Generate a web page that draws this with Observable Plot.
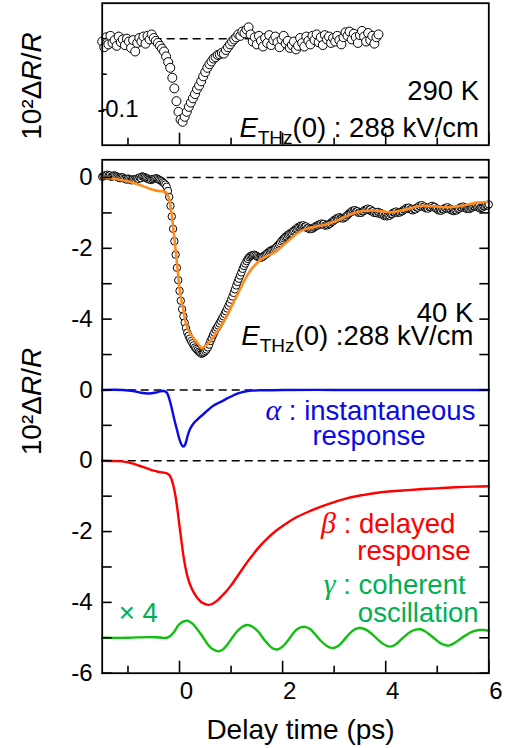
<!DOCTYPE html>
<html><head><meta charset="utf-8">
<script src="https://cdn.jsdelivr.net/npm/d3@7"></script>
<script src="https://cdn.jsdelivr.net/npm/@observablehq/plot@0.6"></script>
<style>
body{margin:0;background:#fff;}
#chart{width:505px;height:748px;overflow:hidden;}
#chart svg{display:block;}
</style></head><body><div id="chart"></div>
<script>
// ---------- data (10^2 ΔR/R vs delay time in ps) ----------
// 290 K measured points, uniform delay grid
const t290Start = -1.5, t290Step = 0.04;
const v290 = [-0.004,-0.012,0.002,-0.008,0.004,-0.006,-0.002,-0.010,0.003,-0.005,
-0.001,-0.009,0.000,-0.004,-0.013,-0.002,-0.018,-0.006,0.001,-0.004,
0.003,-0.007,0.004,-0.001,0.006,0.001,-0.003,-0.006,-0.010,-0.014,
-0.018,-0.025,-0.033,-0.041,-0.055,-0.070,-0.088,-0.103,-0.114,-0.117,
-0.110,-0.103,-0.096,-0.090,-0.084,-0.078,-0.071,-0.066,-0.060,-0.053,
-0.047,-0.041,-0.036,-0.032,-0.028,-0.026,-0.023,-0.022,-0.020,-0.021,
-0.016,-0.012,-0.008,-0.004,-0.001,0.002,0.006,0.004,0.010,0.008,
0.013,0.016,0.006,-0.004,0.002,-0.008,0.004,-0.003,-0.011,0.001,
-0.006,0.005,-0.009,-0.002,0.003,-0.005,-0.012,-0.001,0.004,-0.007,
-0.003,-0.013,-0.009,-0.004,-0.015,-0.010,0.001,-0.006,-0.011,0.003,
-0.003,-0.008,0.004,-0.002,0.006,-0.005,0.002,-0.009,0.005,-0.001,
0.003,-0.006,0.001,-0.004,0.004,-0.002,-0.008,0.002,0.009,0.004,
0.010,-0.001,0.007,0.002,-0.006,0.005,0.011,0.003,-0.004,0.008,
-0.002,0.004,-0.007,0.002,0.006];

// 40 K measured points, scan A (uniform delay grid)
const t40aStart = -1.5, t40aStep = 0.05;
const v40a = [0.02,0.05,0.08,0.06,0.03,0.05,0.01,-0.02,0.00,-0.04,
-0.03,-0.07,-0.05,-0.08,-0.04,-0.02,0.02,-0.01,-0.05,-0.07,
-0.04,-0.02,-0.06,-0.10,-0.16,-0.26,-0.55,-1.10,-1.80,-2.55,
-3.20,-3.72,-4.10,-4.38,-4.55,-4.68,-4.80,-4.88,-4.95,-4.96,
-4.90,-4.80,-4.62,-4.45,-4.30,-4.18,-4.05,-3.92,-3.78,-3.62,
-3.45,-3.26,-3.05,-2.86,-2.68,-2.50,-2.36,-2.25,-2.20,-2.18,
-2.22,-2.26,-2.25,-2.20,-2.14,-2.08,-2.04,-2.00,-1.93,-1.85,
-1.76,-1.68,-1.62,-1.57,-1.52,-1.46,-1.40,-1.36,-1.35,-1.38,
-1.42,-1.44,-1.42,-1.37,-1.33,-1.30,-1.31,-1.34,-1.32,-1.26,
-1.20,-1.15,-1.12,-1.14,-1.13,-1.07,-1.00,-0.94,-0.92,-0.95,
-0.98,-0.96,-0.91,-0.88,-0.90,-0.95,-0.98,-0.97,-1.00,-1.04,
-1.07,-1.08,-1.04,-0.99,-0.96,-0.98,-0.96,-0.91,-0.86,-0.85,
-0.89,-0.90,-0.85,-0.80,-0.78,-0.82,-0.86,-0.84,-0.80,-0.83,
-0.88,-0.92,-0.90,-0.86,-0.84,-0.88,-0.92,-0.93,-0.89,-0.84,
-0.82,-0.85,-0.88,-0.86,-0.82,-0.80,-0.83,-0.85,-0.82,-0.78,
-0.76];

// 40 K measured points, scan B (interleaved grid)
const t40bStart = -1.475, t40bStep = 0.05;
const v40b = [0.04,0.07,0.05,0.02,0.06,0.03,-0.01,0.01,-0.03,-0.06,
-0.04,-0.08,-0.06,-0.03,0.00,0.03,0.01,-0.03,-0.06,-0.05,
-0.03,-0.04,-0.08,-0.13,-0.20,-0.38,-0.80,-1.45,-2.18,-2.90,
-3.48,-3.92,-4.25,-4.47,-4.62,-4.74,-4.84,-4.92,-4.98,-4.94,
-4.86,-4.72,-4.54,-4.38,-4.24,-4.12,-3.98,-3.85,-3.70,-3.54,
-3.36,-3.16,-2.95,-2.77,-2.58,-2.43,-2.30,-2.22,-2.19,-2.20,
-2.25,-2.27,-2.23,-2.17,-2.11,-2.06,-2.03,-1.97,-1.89,-1.80,
-1.72,-1.66,-1.60,-1.56,-1.50,-1.44,-1.39,-1.37,-1.39,-1.43,
-1.46,-1.45,-1.40,-1.36,-1.33,-1.33,-1.36,-1.35,-1.30,-1.24,
-1.19,-1.15,-1.15,-1.16,-1.11,-1.04,-0.98,-0.95,-0.96,-1.00,
-1.00,-0.95,-0.91,-0.92,-0.96,-1.00,-1.01,-1.02,-1.05,-1.09,
-1.10,-1.08,-1.03,-0.99,-1.00,-0.99,-0.95,-0.90,-0.88,-0.90,
-0.93,-0.90,-0.85,-0.82,-0.83,-0.87,-0.88,-0.84,-0.84,-0.88,
-0.93,-0.94,-0.90,-0.87,-0.89,-0.93,-0.95,-0.93,-0.88,-0.85,
-0.86,-0.89,-0.89,-0.85,-0.82,-0.84,-0.87,-0.85,-0.81,-0.79];

// 40 K fit (orange)
const fitT = [-1.5,-1.3,-1.1,-0.9,-0.7,-0.55,-0.45,-0.35,-0.28,-0.24,-0.2,-0.16,-0.12,-0.08,-0.04,0.0,0.04,0.08,0.12,0.18,
0.25,0.32,0.38,0.43,0.48,0.55,0.62,0.7,0.8,0.9,1.0,1.1,1.2,1.3,1.4,1.5,1.6,1.7,1.8,1.9,
2.0,2.1,2.2,2.3,2.4,2.5,2.6,2.7,2.8,2.9,3.0,3.1,3.2,3.3,3.4,3.5,3.6,3.7,3.8,3.9,
4.0,4.1,4.2,4.3,4.4,4.5,4.6,4.7,4.8,4.9,5.0,5.1,5.2,5.3,5.4,5.5,5.6,5.7,5.8,5.9,6.0];
const fitV = [0.0,-0.03,-0.08,-0.15,-0.25,-0.33,-0.37,-0.39,-0.40,-0.45,-0.62,-0.95,-1.45,-2.0,-2.55,-3.15,-3.5,-3.8,-4.1,-4.33,
-4.5,-4.62,-4.73,-4.82,-4.78,-4.7,-4.58,-4.43,-4.2,-3.95,-3.67,-3.38,-3.08,-2.8,-2.58,-2.42,-2.3,-2.22,-2.14,-2.05,
-1.93,-1.8,-1.67,-1.56,-1.48,-1.43,-1.4,-1.37,-1.34,-1.3,-1.25,-1.19,-1.12,-1.05,-1.0,-0.96,-0.94,-0.93,-0.93,-0.95,
-0.97,-0.98,-0.96,-0.93,-0.9,-0.86,-0.82,-0.8,-0.8,-0.81,-0.82,-0.84,-0.84,-0.83,-0.81,-0.79,-0.76,-0.73,-0.71,-0.7,-0.69];

// alpha: instantaneous response
const alphaT = [-1.5,-1.1,-0.9,-0.75,-0.6,-0.48,-0.38,-0.3,-0.25,-0.21,-0.17,-0.13,-0.09,-0.05,-0.01,0.03,0.07,0.1,0.13,0.16,
0.2,0.25,0.3,0.37,0.45,0.55,0.65,0.75,0.85,0.95,1.05,1.15,1.25,1.4,1.6,2.0,3.0,4.0,5.0,6.0];
const alphaV = [0,0,-0.03,-0.08,-0.1,-0.08,-0.04,-0.03,-0.07,-0.2,-0.4,-0.65,-0.9,-1.12,-1.35,-1.52,-1.6,-1.57,-1.45,-1.28,
-1.12,-0.99,-0.9,-0.8,-0.7,-0.57,-0.45,-0.37,-0.3,-0.22,-0.15,-0.09,-0.05,-0.02,-0.01,0,0,0,0,0];

// beta: delayed response
const betaT = [-1.5,-1.2,-1.05,-0.9,-0.8,-0.7,-0.6,-0.5,-0.42,-0.33,-0.26,-0.2,-0.16,-0.12,-0.08,-0.04,0.0,0.04,0.08,0.12,
0.16,0.22,0.28,0.35,0.42,0.5,0.57,0.65,0.73,0.82,0.9,1.0,1.1,1.2,1.3,1.4,1.53,1.7,1.86,2.05,
2.25,2.5,2.76,3.0,3.28,3.55,3.8,4.05,4.32,4.6,4.83,5.1,5.35,5.7,6.0];
const betaV = [0,-0.01,-0.03,-0.08,-0.13,-0.18,-0.23,-0.28,-0.31,-0.33,-0.35,-0.4,-0.5,-0.7,-0.98,-1.38,-1.85,-2.3,-2.72,-3.05,
-3.3,-3.55,-3.73,-3.88,-3.99,-4.05,-4.07,-4.03,-3.95,-3.82,-3.7,-3.52,-3.31,-3.1,-2.89,-2.7,-2.46,-2.2,-1.99,-1.79,
-1.61,-1.44,-1.29,-1.17,-1.05,-0.97,-0.91,-0.87,-0.84,-0.81,-0.79,-0.77,-0.75,-0.73,-0.72];

// gamma: coherent oscillation (x4)
const gammaT = [-1.5,-1.0,-0.6,-0.4,-0.25,-0.18,-0.1,-0.02,0.06,0.16,0.25,0.34,0.44,0.53,0.64,0.75,0.85,0.95,1.05,1.15,
1.24,1.33,1.43,1.53,1.62,1.7,1.79,1.89,1.99,2.09,2.19,2.28,2.36,2.44,2.54,2.63,2.73,2.83,2.91,2.99,
3.09,3.18,3.28,3.38,3.46,3.54,3.64,3.74,3.84,3.93,4.01,4.09,4.19,4.29,4.39,4.48,4.58,4.67,4.77,4.87,
4.97,5.06,5.14,5.22,5.32,5.42,5.52,5.61,5.71,5.81,5.9,6.0];
const gammaV = [0,0,0.02,0.01,0,0.05,0.18,0.36,0.45,0.48,0.4,0.25,0.05,-0.15,-0.32,-0.38,-0.32,-0.15,0.06,0.23,
0.33,0.36,0.3,0.17,-0.01,-0.15,-0.28,-0.33,-0.26,-0.1,0.1,0.24,0.3,0.31,0.24,0.1,-0.07,-0.2,-0.27,-0.29,
-0.22,-0.08,0.09,0.22,0.27,0.27,0.21,0.1,-0.04,-0.15,-0.22,-0.25,-0.19,-0.06,0.07,0.17,0.23,0.24,0.18,0.07,
-0.05,-0.15,-0.2,-0.22,-0.16,-0.06,0.04,0.12,0.19,0.22,0.22,0.2];

// vertical offsets of the stacked component traces (axis zero of each)
const offsetAlpha = -6, offsetBeta = -8, offsetGamma = -13;

// ticks
const xMajor = [0, 2, 4, 6];
const xMinor = [-1, 1, 3, 5];
const yTicksMain = [0,-1,-2,-3,-4,-5,-6,-7,-8,-9,-10,-11,-12,-13,-14];
const yLabelPos = [0,-2,-4,-6,-8,-10,-12,-14];
const yLabelText = ["0","-2","-4","0","0","-2","-4","-6"];
const yTicksTop = [0,-0.05,-0.1];

// ---------- build tables ----------
const d290 = v290.map((v, i) => ({t: t290Start + i * t290Step, v}));
const d40 = v40a.map((v, i) => ({t: t40aStart + i * t40aStep, v}))
  .concat(v40b.map((v, i) => ({t: t40bStart + i * t40bStep, v})))
  .sort((a, b) => a.t - b.t);
const zip = (T, V, off = 0) => T.map((t, i) => ({t, v: V[i] + off}));
const fit = zip(fitT, fitV);
const alpha = zip(alphaT, alphaV, offsetAlpha);
const beta = zip(betaT, betaV, offsetBeta);
const gamma = zip(gammaT, gammaV, offsetGamma);
const yLabelMap = new Map(yLabelPos.map((p, i) => [p, yLabelText[i]]));

const FONT = "'Liberation Sans', Arial, sans-serif";
const SERIF = "'Liberation Serif', 'Times New Roman', serif";
const ORANGE = "#ff8c1e", BLUE = "#0a0ae6", RED = "#ff0000", GREEN_LINE = "#10c010", GREEN_TEXT = "#00b050";
const TICK_FS = 24, ANN_FS = 27.5, TITLE_FS = 28;
const dash = {stroke: "black", strokeWidth: 1.6, strokeDasharray: "8,5"};

function ann(text, x, y, o = {}) {
  return Plot.text([text], {x, y, text: d => d, textAnchor: o.anchor || "end", lineAnchor: "bottom",
    fontSize: o.fs || ANN_FS, fill: o.fill || "black"});
}

// ---------- top panel: 290 K ----------
const topPlot = Plot.plot({
  width: 505, height: 150,
  marginLeft: 101.7, marginRight: 16.7, marginTop: 2.7, marginBottom: 5.3,
  x: {domain: [-1.5, 6]},
  y: {domain: [-0.15, 0.05]},
  style: {fontFamily: FONT, background: "white", color: "black", overflow: "visible"},
  marks: [
    Plot.ruleY([0], {x1: -1.5, x2: 3.9, ...dash}),
    Plot.dot(d290, {x: "t", y: "v", r: 4.5, fill: "white", stroke: "black", strokeWidth: 1}),
    Plot.axisY({anchor: "left", ticks: yTicksTop, tickSize: 5, dx: 5, fill: "none", strokeWidth: 1.6, label: null}),
    Plot.axisX({anchor: "bottom", ticks: xMajor, tickSize: 12, dy: -12, fill: "none", strokeWidth: 1.6, label: null}),
    Plot.axisX({anchor: "bottom", ticks: xMinor, tickSize: 7, dy: -7, fill: "none", strokeWidth: 1.6, label: null}),
    Plot.frame({stroke: "black", strokeWidth: 1.8}),
    Plot.text(["-0.1"], {x: -1.5, y: -0.1, text: d => d, textAnchor: "start", dx: -5, fontSize: TICK_FS, fill: "black"}),
    ann("290 K", 5.81, -0.087),
    ann("ETHz(0) : 288 kV/cm", 5.81, -0.139),
    Plot.text(["10²ΔR/R"], {frameAnchor: "left", dx: -70.5, dy: 11.8, rotate: -90, text: d => d,
      fontSize: TITLE_FS, textAnchor: "middle", lineAnchor: "middle", fill: "black"})
  ]
});

// ---------- main panel: 40 K + components ----------
const mainPlot = Plot.plot({
  width: 505, height: 598,
  marginLeft: 101.7, marginRight: 16.7, marginTop: 9.3, marginBottom: 75.3,
  x: {domain: [-1.5, 6]},
  y: {domain: [-14, 0.5]},
  style: {fontFamily: FONT, background: "white", color: "black", overflow: "visible"},
  marks: [
    Plot.ruleY([0, offsetAlpha, offsetBeta], dash),
    Plot.dot(d40, {x: "t", y: "v", r: 3.7, fill: "white", stroke: "black", strokeWidth: 1}),
    Plot.line(fit, {x: "t", y: "v", stroke: ORANGE, strokeWidth: 2.6, curve: "catmull-rom"}),
    Plot.line(alpha, {x: "t", y: "v", stroke: BLUE, strokeWidth: 2.4, curve: "catmull-rom"}),
    Plot.line(beta, {x: "t", y: "v", stroke: RED, strokeWidth: 2.4, curve: "catmull-rom"}),
    Plot.line(gamma, {x: "t", y: "v", stroke: GREEN_LINE, strokeWidth: 2.4, curve: "catmull-rom"}),
    Plot.axisY({anchor: "left", ticks: yTicksMain, tickSize: 10, dx: 10, fill: "none", strokeWidth: 1.6, label: null}),
    Plot.axisY({anchor: "right", ticks: yTicksMain, tickSize: 10, dx: -10, fill: "none", strokeWidth: 1.6, label: null}),
    Plot.axisY({anchor: "left", ticks: yLabelPos, tickSize: 0, tickPadding: 9.5, tickFormat: d => yLabelMap.get(d),
      fontSize: TICK_FS, label: null}),
    Plot.axisX({anchor: "bottom", ticks: xMajor, tickSize: 12, dy: -12, fill: "none", strokeWidth: 1.6, label: null}),
    Plot.axisX({anchor: "bottom", ticks: xMinor, tickSize: 7, dy: -7, fill: "none", strokeWidth: 1.6, label: null}),
    Plot.axisX({anchor: "bottom", ticks: xMajor, tickSize: 0, tickPadding: 9, dx: 7, tickFormat: d => String(d),
      fontSize: TICK_FS, label: null}),
    Plot.frame({stroke: "black", strokeWidth: 1.8}),
    ann("40 K", 5.70, -4.07),
    ann("α : instantaneous", 5.74, -6.85, {fill: BLUE}),
    ann("β : delayed", 5.35, -10.05, {fill: RED}),
    ann("γ : coherent", 5.55, -11.76, {fill: GREEN_TEXT}),
    ann("× 4", -1.18, -12.56, {fill: GREEN_TEXT, anchor: "start"}),
    Plot.text(["10²ΔR/R"], {frameAnchor: "left", dx: -70.5, dy: -15, rotate: -90, text: d => d,
      fontSize: TITLE_FS, textAnchor: "middle", lineAnchor: "middle", fill: "black"}),
    Plot.text(["Delay time (ps)"], {frameAnchor: "bottom", dx: 5, dy: 65.3, text: d => d,
      fontSize: TITLE_FS, lineAnchor: "bottom", fill: "black"})
  ]
});

// ---------- rich text (italics, sub/superscripts, second lines) ----------
function rich(svg, key, parts) {
  d3.select(svg).selectAll("text").filter(function () { return this.textContent === key; }).each(function () {
    const el = d3.select(this);
    el.selectAll("*").remove();
    el.text(null);
    for (const p of parts) {
      const ts = el.append("tspan").text(p.t);
      if (p.italic) ts.attr("font-style", "italic");
      if (p.family) ts.attr("font-family", p.family);
      if (p.size) ts.attr("font-size", p.size);
      if (p.x !== undefined) ts.attr("x", p.x);
      if (p.y !== undefined) ts.attr("y", p.y);
      if (p.anchor) ts.attr("text-anchor", p.anchor);
      if (p.dy) ts.attr("dy", p.dy);
    }
  });
}
const greek = (g) => ({t: g, italic: true, family: SERIF, size: 30});
for (const svg of [topPlot, mainPlot]) {
  rich(svg, "10²ΔR/R", [{t: "10²Δ"}, {t: "R", italic: true}, {t: "/"}, {t: "R", italic: true}]);
  rich(svg, "ETHz(0) : 288 kV/cm", [{t: "E", italic: true}, {t: "THz", size: 19, dy: 7}, {t: "(0) : 288 kV/cm", dy: -7}]);
}
rich(mainPlot, "40 K", [{t: "40 K"},
  {t: "E", italic: true, x: 0, y: 23.7, anchor: "end"}, {t: "THz", size: 19, dy: 7}, {t: "(0) :288 kV/cm", dy: -7}]);
rich(mainPlot, "α : instantaneous", [greek("α"), {t: " : instantaneous"},
  {t: "response", x: -163, y: 25.4, anchor: "start"}]);
rich(mainPlot, "β : delayed", [greek("β"), {t: " : delayed"},
  {t: "response", x: -98, y: 27.1, anchor: "start"}]);
rich(mainPlot, "γ : coherent", [greek("γ"), {t: " : coherent"},
  {t: "oscillation", x: 13, y: 28.3, anchor: "end"}]);

const root = document.getElementById("chart");
root.appendChild(topPlot);
root.appendChild(mainPlot);
</script>
</body></html>
